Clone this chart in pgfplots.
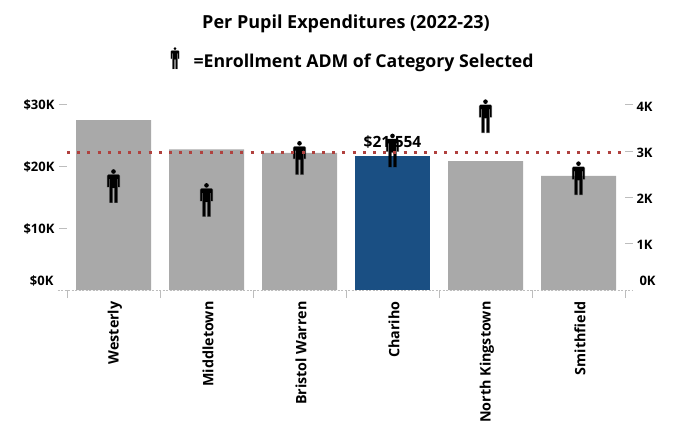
\documentclass[border=0pt]{standalone}
\usepackage{pgfplots}
\pgfplotsset{compat=1.18}
\usepackage{fontspec}
\setmainfont{Open Sans}
\definecolor{bargray}{HTML}{A9A9A9}
\definecolor{barblue}{HTML}{1A4F83}
\definecolor{refred}{HTML}{B0413E}
\definecolor{tickgray}{HTML}{BDBDBD}
\pgfdeclareplotmark{person}{%
  \pgfsetfillcolor{black}\pgfsetstrokecolor{black}%
  \pgfpathcircle{\pgfpoint{0pt}{14.4pt}}{2.3pt}\pgfusepathqfill
  \pgfsetstrokeopacity{0.35}\pgfsetlinewidth{0.9pt}%
  \pgfpathmoveto{\pgfpoint{-5pt}{11.2pt}}
  \pgfpathlineto{\pgfpoint{5pt}{11.2pt}}
  \pgfpathlineto{\pgfpoint{6.2pt}{10pt}}
  \pgfpathlineto{\pgfpoint{6.2pt}{-1pt}}
  \pgfpathlineto{\pgfpoint{4.7pt}{-1pt}}
  \pgfpathlineto{\pgfpoint{4.7pt}{7pt}}
  \pgfpathlineto{\pgfpoint{3.8pt}{7pt}}
  \pgfpathlineto{\pgfpoint{3.8pt}{-16.6pt}}
  \pgfpathlineto{\pgfpoint{1.1pt}{-16.6pt}}
  \pgfpathlineto{\pgfpoint{1.1pt}{-2pt}}
  \pgfpathlineto{\pgfpoint{-1.1pt}{-2pt}}
  \pgfpathlineto{\pgfpoint{-1.1pt}{-16.6pt}}
  \pgfpathlineto{\pgfpoint{-3.8pt}{-16.6pt}}
  \pgfpathlineto{\pgfpoint{-3.8pt}{7pt}}
  \pgfpathlineto{\pgfpoint{-4.7pt}{7pt}}
  \pgfpathlineto{\pgfpoint{-4.7pt}{-1pt}}
  \pgfpathlineto{\pgfpoint{-6.2pt}{-1pt}}
  \pgfpathlineto{\pgfpoint{-6.2pt}{10pt}}
  \pgfpathclose\pgfusepath{fill,stroke}
}
\begin{document}
\begin{tikzpicture}[x=1pt,y=1pt]
\path[use as bounding box] (0,0) rectangle (691,432);
\node[font=\bfseries\fontsize{18}{20}\selectfont] at (346,408) {Per Pupil Expenditures (2022-23)};
\node[font=\bfseries\fontsize{17.7}{20}\selectfont,anchor=west] at (190,369.5) {=Enrollment ADM of Category Selected};
\begin{scope}[shift={(175,374)},scale=0.65]
\pgfuseplotmark{person}
\end{scope}
\begin{axis}[
  at={(67pt,142pt)},anchor=south west,
  scale only axis,width=558pt,height=200pt,
  xmin=-0.5,xmax=5.5,ymin=0,ymax=32.258,
  axis line style={draw=none},
  xtick={0,1,2,3,4,5},
  xticklabels={Westerly,Middletown,Bristol Warren,Chariho,North Kingstown,Smithfield},
  minor xtick={-0.5,0.5,1.5,2.5,3.5,4.5,5.5},
  x tick label style={rotate=90,anchor=east,yshift=-1.5pt,font=\bfseries\fontsize{14.3}{16}\selectfont},
  major x tick style={draw=none},
  minor x tick style={draw=tickgray,line width=1pt},
  minor tick length=8pt,
  xticklabel shift=0pt,
  ytick={10,20,30},
  yticklabels={\$10K,\$20K,\$30K},
  y tick label style={font=\bfseries\fontsize{13}{15}\selectfont,xshift=-1pt,yshift=-0.5pt},
  y tick style={draw=tickgray,line width=1pt},
  ytick pos=left,xtick pos=bottom,
  major tick length=8pt,
  tick align=outside,
  clip=false,
]
\addplot[ybar,bar width=75pt,bar shift=0pt,fill=bargray,draw=none] coordinates {(0,27.4)(1,22.7)(2,22.1)(4,20.8)(5,18.4)};
\addplot[ybar,bar width=75pt,bar shift=0pt,fill=barblue,draw=none,
  nodes near coords={\bfseries\fontsize{15.5}{17}\selectfont\$21,554},
  nodes near coords align={anchor=south},
  every node near coord/.append style={yshift=3pt,text=black}] coordinates {(3,21.554)};
\addplot[draw=tickgray,line width=1pt,dash pattern=on 2pt off 1.5pt,forget plot] coordinates {(-0.6,0)(5.58,0)};
\end{axis}
\node[anchor=east,font=\bfseries\fontsize{13}{15}\selectfont] at (57,151) {\$0K};
\node[anchor=west,font=\bfseries\fontsize{13}{15}\selectfont] at (636,151) {0K};
\begin{axis}[
  at={(67pt,142pt)},anchor=south west,
  scale only axis,width=558pt,height=200pt,
  xmin=-0.5,xmax=5.5,ymin=0,ymax=4.324,
  axis line style={draw=none},
  xtick=\empty,
  ytick={1,2,3,4},
  yticklabels={1K,2K,3K,4K},
  axis y line*=right,
  y tick label style={font=\bfseries\fontsize{13}{15}\selectfont,yshift=-1.5pt},
  y tick style={draw=tickgray,line width=1pt},
  major tick length=8pt,
  tick align=outside,
  clip=false,
]
\addplot[only marks,mark=person,black] coordinates {(0,2.25)(1,1.95)(2,2.86)(3,3.02)(4,3.76)(5,2.42)};
\end{axis}
\begin{axis}[
  at={(67pt,142pt)},anchor=south west,
  scale only axis,width=558pt,height=200pt,
  xmin=-0.5,xmax=5.5,ymin=0,ymax=32.258,
  hide axis,clip=false,
]
\addplot[draw=refred,line width=3pt,dash pattern=on 3pt off 7.2pt] coordinates {(-0.5,22.1)(5.5,22.1)};
\end{axis}
\end{tikzpicture}
\end{document}
